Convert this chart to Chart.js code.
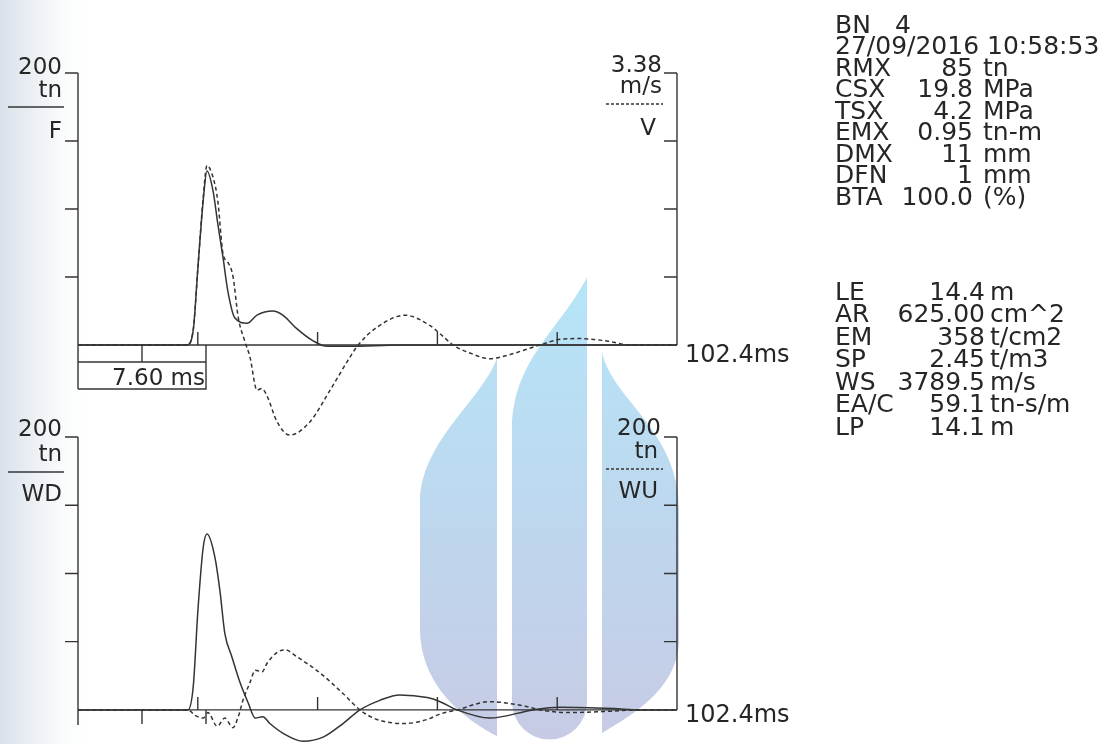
<!DOCTYPE html>
<html>
<head>
<meta charset="utf-8">
<script src="https://cdn.jsdelivr.net/npm/chart.js@4.4.1/dist/chart.umd.min.js"></script>
<style>
  html, body { margin: 0; padding: 0; }
  body {
    width: 1105px; height: 744px; overflow: hidden;
    background: linear-gradient(to right, #d9e1ea 0px, #e3e9f0 18px, #edf1f5 36px, #f6f8fa 54px, #fcfdfd 70px, #ffffff 88px);
  }
  #stage { position: absolute; left: 0; top: 0; width: 1105px; height: 744px; }
  canvas { position: absolute; left: 0; top: 0; }
</style>
</head>
<body>
<div id="stage">
  <canvas id="top" width="1105" height="744"></canvas>
  <canvas id="bottom" width="1105" height="744"></canvas>
</div>
<script>
// ---- data (ms / tn / m/s) ----
var tF = [0, 18.6, 19.7, 20.5, 21.4, 22.05, 23.1, 23.9, 24.8, 25.6, 26.8, 28.9, 30.6, 33.3, 35.0, 37.4, 40.2, 42.6, 46.5, 55, 102.4];
var F  = [0, 0, 11, 57, 106, 128, 113, 89, 64, 40, 20, 16, 22, 25, 22, 12, 3, -1, -1, 0, 0];

var tV = [0, 18.6, 19.7, 20.5, 21.4, 22.05, 23.1, 23.9, 24.8, 25.6, 26.5, 27.4, 28.5, 29.4, 30.6, 31.4, 32.3, 34.0, 36.2, 39.7,
          43.1, 46.5, 47.9, 51.1, 55.9, 60.2, 61.9, 64.1, 67.0, 70.4, 73.8, 76.8, 79.0, 82.4, 85.8, 90.4, 94.4, 102.4];
var V  = [0, 0, 0.19, 0.96, 1.83, 2.23, 2.08, 1.79, 1.13, 1.03, 0.85, 0.34, 0.05, -0.15, -0.56, -0.54, -0.63, -0.95, -1.12, -0.95,
          -0.56, -0.15, 0, 0.22, 0.37, 0.24, 0.14, 0, -0.10, -0.17, -0.12, -0.05, 0, 0.07, 0.08, 0.05, 0, 0];

var tWD = [0, 18.8, 19.7, 20.5, 21.4, 22.05, 23.4, 24.3, 25.1, 26.3, 27.7, 29.1, 30.3, 31.6, 32.8, 35.0, 38.5, 41.9, 45.3, 48.2,
           51.6, 55.0, 59.7, 61.9, 64.8, 70.4, 77.8, 82.4, 91.5, 96, 102.4];
var WD  = [0, 0, 17, 73, 119, 129, 112, 86, 56, 39, 20, 5, -6, -5, -10, -17, -23, -20, -10, 0,
           7, 11, 9, 6, 0, -6, 0, 2, 1, 0, 0];

var tWU = [0, 18.8, 20.0, 21.4, 22.2, 23.8, 25.1, 26.5, 27.4, 28.2, 29.4, 30.3, 31.5, 32.3, 34.0, 35.4, 37.4, 41.4, 45.3, 48.2,
           51.1, 55.9, 59.7, 61.9, 64.8, 70.4, 76.1, 79.0, 84.1, 90.9, 96, 102.4];
var WU  = [0, 0, -4, -6, -2, -12, -6, -13, -5, 7, 20, 29, 28, 34, 42, 44, 39, 27, 12, 0,
           -7, -10, -7, -3, 0, 6, 3, 0, -2, -1, 0, 0];

var yTicks = [50, 100, 150, 200];
var xTicks = [20.48, 40.96, 61.44, 81.92];
var markTicks = [10.94, 21.88];
var timeSpan = 102.4;
var vScale = 3.38;

var infoLabels = ['BN', 'RMX', 'CSX', 'TSX', 'EMX', 'DMX', 'DFN', 'BTA'];
var infoValues = ['4', '85', '19.8', '4.2', '0.95', '11', '1', '100.0'];
var infoUnits  = ['', 'tn', 'MPa', 'MPa', 'tn-m', 'mm', 'mm', '(%)'];
var dateText = '27/09/2016 10:58:53';

var pileLabels = ['LE', 'AR', 'EM', 'SP', 'WS', 'EA/C', 'LP'];
var pileValues = ['14.4', '625.00', '358', '2.45', '3789.5', '59.1', '14.1'];
var pileUnits  = ['m', 'cm^2', 't/cm2', 't/m3', 'm/s', 'tn-s/m', 'm'];

function pts(t, v) {
  return t.map(function (x, i) { return { x: x, y: v[i] }; });
}

var INK = '#343434';

// axis frame drawn from the scales
function framePlugin(o) {
  return {
    id: 'frame',
    beforeDraw: function (chart) {
      if (!o.watermark) return;
      var c = chart.ctx;
      var g = c.createLinearGradient(0, 277, 0, 740);
      g.addColorStop(0, '#b6e5f8');
      g.addColorStop(0.45, '#bcd9ef');
      g.addColorStop(1, '#c7cbe5');
      c.save();
      c.fillStyle = g;
      c.beginPath();
      c.moveTo(497, 358);
      c.bezierCurveTo(482, 400, 422, 440, 420, 500);
      c.lineTo(420, 630);
      c.bezierCurveTo(421, 690, 470, 722, 497, 736);
      c.closePath();
      c.fill();
      c.beginPath();
      c.moveTo(587, 277);
      c.lineTo(587, 702);
      c.arc(549.5, 702, 37.5, 0, Math.PI);
      c.lineTo(512, 430);
      c.bezierCurveTo(512, 360, 560, 330, 587, 277);
      c.closePath();
      c.fill();
      c.beginPath();
      c.moveTo(602, 352);
      c.bezierCurveTo(612, 400, 679, 430, 679, 510);
      c.lineTo(679, 640);
      c.bezierCurveTo(678, 690, 630, 716, 602, 733);
      c.closePath();
      c.fill();
      c.restore();
    },
    afterDatasetsDraw: function (chart) {
      var c = chart.ctx, x = chart.scales.x, y = chart.scales.y;
      var L = x.getPixelForValue(0), R = x.getPixelForValue(timeSpan);
      var y0 = y.getPixelForValue(0), yTop = y.getPixelForValue(200);
      c.save();
      c.strokeStyle = INK;
      c.lineWidth = 1.4;
      c.beginPath();
      // left axis + outside ticks
      c.moveTo(L, yTop); c.lineTo(L, o.leftBottom);
      yTicks.forEach(function (v) {
        var p = y.getPixelForValue(v);
        c.moveTo(L - 13, p); c.lineTo(L, p);
      });
      // right axis + inside ticks
      c.moveTo(R, yTop); c.lineTo(R, y0);
      yTicks.forEach(function (v) {
        var p = y.getPixelForValue(v);
        c.moveTo(R - 13, p); c.lineTo(R, p);
      });
      // zero line
      c.moveTo(L, y0); c.lineTo(R, y0);
      xTicks.forEach(function (t) {
        var p = x.getPixelForValue(t);
        c.moveTo(p, y0 - 13); c.lineTo(p, y0);
      });
      markTicks.forEach(function (t) {
        var p = x.getPixelForValue(t);
        c.moveTo(p, y0); c.lineTo(p, y0 + o.markLen);
      });
      if (o.box) {
        var bR = x.getPixelForValue(markTicks[1]);
        c.moveTo(L, y0 + o.markLen); c.lineTo(bR, y0 + o.markLen);
        c.lineTo(bR, y0 + o.markLen + 27);
        c.lineTo(L, y0 + o.markLen + 27);
      }
      c.stroke();
      // legend rules
      c.beginPath();
      c.moveTo(8, o.ruleY); c.lineTo(64, o.ruleY);
      c.stroke();
      c.setLineDash([3, 2]);
      c.lineWidth = 1.3;
      c.beginPath();
      c.moveTo(606, o.dashY); c.lineTo(663, o.dashY);
      c.stroke();
      c.restore();
    }
  };
}

function lineSet(data, axis, dashed) {
  return {
    data: data,
    yAxisID: axis,
    borderColor: INK,
    borderWidth: 1.5,
    borderDash: dashed ? [4, 3] : [],
    pointRadius: 0,
    fill: false,
    cubicInterpolationMode: 'monotone'
  };
}

function makeChart(id, sets, pad, yMin, o) {
  return new Chart(document.getElementById(id).getContext('2d'), {
    type: 'line',
    data: { datasets: sets },
    options: {
      responsive: false,
      animation: false,
      layout: { padding: pad },
      scales: {
        x: { type: 'linear', min: 0, max: timeSpan, display: false },
        y: { min: yMin, max: 200, display: false },
        yV: { min: yMin * vScale / 200, max: vScale, display: false }
      },
      plugins: { legend: { display: false }, tooltip: { enabled: false } }
    },
    plugins: [framePlugin(o)]
  });
}

// Top: force / velocity
makeChart('top', [
  lineSet(pts(tF, F), 'y', false),
  lineSet(pts(tV, V), 'yV', true)
], { left: 78, right: 428, top: 73, bottom: 297 }, -75,
  { watermark: true, leftBottom: 389, markLen: 17, box: true, ruleY: 107, dashY: 104 });

// Bottom: wave down / wave up
makeChart('bottom', [
  lineSet(pts(tWD, WD), 'y', false),
  lineSet(pts(tWU, WU), 'y', true)
], { left: 78, right: 428, top: 437, bottom: 0 }, -25,
  { watermark: false, leftBottom: 725, markLen: 14, box: false, ruleY: 472, dashY: 469 });

// ---- text ----
var stage = document.getElementById('stage');
function addText(txt, x, base, align, size) {
  var d = document.createElement('div');
  d.textContent = txt;
  d.style.position = 'absolute';
  d.style.font = size + 'px "DejaVu Sans", Verdana, sans-serif';
  d.style.lineHeight = size + 'px';
  d.style.whiteSpace = 'pre';
  d.style.color = '#262626';
  d.style.top = (base - 0.846 * size) + 'px';
  if (align === 'right') d.style.right = (1105 - x) + 'px';
  else d.style.left = x + 'px';
  stage.appendChild(d);
}

var AX = 23;
addText('200', 62, 74, 'right', AX);
addText('tn', 62, 97, 'right', AX);
addText('F', 62, 138, 'right', AX);
addText('3.38', 662, 72, 'right', AX);
addText('m/s', 662, 93, 'right', AX);
addText('V', 656, 135, 'right', AX);
addText('102.4ms', 685, 362, 'left', 24);
addText('7.60 ms', 205, 385, 'right', AX);

addText('200', 62, 436, 'right', AX);
addText('tn', 62, 461, 'right', AX);
addText('WD', 62, 501, 'right', AX);
addText('200', 661, 435, 'right', AX);
addText('tn', 658, 458, 'right', AX);
addText('WU', 658, 498, 'right', AX);
addText('102.4ms', 685, 722, 'left', 24);

var PS = 25;
addText(infoLabels[0], 835, 33, 'left', PS);
addText(infoValues[0], 911, 33, 'right', PS);
addText(dateText, 835, 54.5, 'left', PS);
for (var i = 1; i < infoLabels.length; i++) {
  var b = 33 + 21.5 * (i + 1);
  addText(infoLabels[i], 835, b, 'left', PS);
  addText(infoValues[i], 973, b, 'right', PS);
  addText(infoUnits[i], 983, b, 'left', PS);
}
for (var j = 0; j < pileLabels.length; j++) {
  var bb = 300 + 22.5 * j;
  addText(pileLabels[j], 835, bb, 'left', PS);
  addText(pileValues[j], 985, bb, 'right', PS);
  addText(pileUnits[j], 990, bb, 'left', PS);
}
</script>
</body>
</html>
